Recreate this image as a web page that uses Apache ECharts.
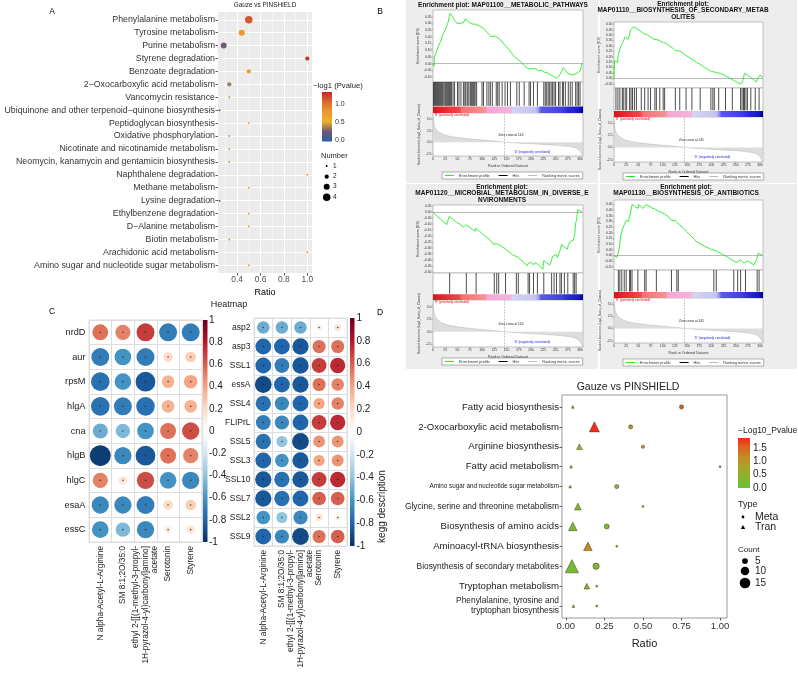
<!DOCTYPE html>
<html>
<head>
<meta charset="utf-8">
<title>Figure</title>
<script src="https://cdn.jsdelivr.net/npm/echarts@6.0.0/dist/echarts.min.js"></script>
<style>
html,body{margin:0;padding:0;background:#ffffff;}
#main{width:798px;height:673px;}
</style>
</head>
<body>
<div id="main"></div>
<script>
// ================= Panel A data =================
const aCategories = ['Phenylalanine metabolism','Tyrosine metabolism','Purine metabolism','Styrene degradation','Benzoate degradation','2\u2212Oxocarboxylic acid metabolism','Vancomycin resistance','Ubiquinone and other terpenoid\u2212quinone biosynthesis','Peptidoglycan biosynthesis','Oxidative phosphorylation','Nicotinate and nicotinamide metabolism','Neomycin, kanamycin and gentamicin biosynthesis','Naphthalene degradation','Methane metabolism','Lysine degradation','Ethylbenzene degradation','D\u2212Alanine metabolism','Biotin metabolism','Arachidonic acid metabolism','Amino sugar and nucleotide sugar metabolism'];
const aRatio  = [0.5, 0.44, 0.2857, 1.0, 0.5, 0.3333, 0.3333, 0.25, 0.5, 0.3333, 0.3333, 0.3333, 1.0, 0.5, 0.25, 0.5, 0.5, 0.3333, 1.0, 0.5];
const aNumber = [4, 3, 3, 2, 2, 2, 1, 1, 1, 1, 1, 1, 1, 1, 1, 1, 1, 1, 1, 1];
const aLogP   = [1.15, 0.8, 0.25, 1.3, 0.75, 0.35, 0.45, 0.05, 0.6, 0.45, 0.45, 0.45, 0.7, 0.55, 0.1, 0.5, 0.5, 0.45, 0.7, 0.5];
const aXTicks = [0.4, 0.6, 0.8, 1.0];
const aXMinorTicks = [0.3, 0.5, 0.7, 0.9];
const aColorTicks = [0.0, 0.5, 1.0];
const aNumberLegend = [1, 2, 3, 4];

// ================= Panel B data =================
const gseaTitles = [
  ['Enrichment plot: MAP01100__METABOLIC_PATHWAYS'],
  ['Enrichment plot:', 'MAP01110__BIOSYNTHESIS_OF_SECONDARY_METAB', 'OLITES'],
  ['Enrichment plot:', 'MAP01120__MICROBIAL_METABOLISM_IN_DIVERSE_E', 'NVIRONMENTS'],
  ['Enrichment plot:', 'MAP01130__BIOSYNTHESIS_OF_ANTIBIOTICS']
];
const es1 = [[0,0],[2,-0.02],[3,0.05],[5,0.04],[6,0.08],[8,0.10],[10,0.09],[12,0.14],[14,0.13],[16,0.17],[18,0.2],[20,0.19],[22,0.23],[25,0.24],[27,0.27],[29,0.29],[31,0.31],[33,0.35],[35,0.375],[38,0.365],[40,0.35],[43,0.33],[46,0.315],[49,0.30],[52,0.295],[56,0.30],[60,0.305],[63,0.31],[66,0.335],[68,0.33],[72,0.31],[76,0.30],[80,0.295],[86,0.295],[90,0.29],[95,0.28],[100,0.27],[105,0.255],[110,0.235],[115,0.215],[118,0.20],[122,0.205],[128,0.205],[132,0.195],[138,0.175],[145,0.145],[150,0.125],[156,0.10],[162,0.07],[168,0.045],[174,0.03],[180,0.01],[186,-0.015],[192,-0.035],[198,-0.04],[204,-0.035],[210,-0.04],[216,-0.055],[222,-0.05],[228,-0.065],[234,-0.07],[240,-0.085],[246,-0.095],[250,-0.10],[253,-0.11],[257,-0.095],[262,-0.06],[266,-0.03],[270,-0.05],[274,-0.07],[280,-0.08],[286,-0.085],[292,-0.075],[296,-0.07],[300,-0.055],[302,-0.03],[304,0.0]];
const es2 = [[0,0],[1,0.165],[5,0.15],[7,0.145],[9,0.22],[12,0.23],[14,0.30],[17,0.32],[19,0.34],[21,0.33],[23,0.385],[26,0.375],[29,0.36],[31,0.39],[34,0.445],[37,0.45],[40,0.475],[44,0.47],[50,0.45],[56,0.43],[62,0.41],[67,0.405],[72,0.39],[77,0.375],[82,0.36],[86,0.365],[90,0.355],[96,0.34],[102,0.33],[108,0.32],[114,0.30],[120,0.28],[125,0.26],[130,0.255],[136,0.25],[142,0.23],[148,0.21],[155,0.19],[162,0.17],[170,0.145],[178,0.125],[186,0.10],[194,0.08],[200,0.06],[206,0.06],[212,0.05],[218,0.045],[224,0.035],[230,0.02],[236,0.005],[242,-0.01],[248,-0.025],[254,-0.04],[260,-0.055],[264,-0.03],[268,0.045],[274,0.03],[280,0.01],[286,-0.01],[290,-0.025],[292,-0.035],[296,0.005],[300,0.03],[305,0.005]];
const es3 = [[0,0],[4,-0.015],[10,-0.04],[16,-0.06],[22,-0.085],[28,-0.105],[32,-0.12],[33,-0.035],[40,-0.06],[48,-0.085],[56,-0.105],[62,-0.125],[66,-0.135],[67,-0.105],[74,-0.125],[80,-0.145],[86,-0.16],[87,-0.135],[95,-0.16],[103,-0.19],[110,-0.21],[118,-0.24],[124,-0.27],[125,-0.255],[130,-0.265],[133,-0.28],[134,-0.265],[140,-0.285],[148,-0.31],[156,-0.335],[163,-0.36],[166,-0.37],[172,-0.375],[178,-0.395],[185,-0.42],[192,-0.45],[194,-0.43],[198,-0.435],[200,-0.42],[204,-0.44],[210,-0.425],[214,-0.44],[220,-0.46],[224,-0.48],[226,-0.405],[232,-0.425],[238,-0.445],[240,-0.455],[242,-0.40],[244,-0.37],[248,-0.38],[251,-0.355],[254,-0.38],[256,-0.375],[260,-0.31],[262,-0.27],[268,-0.29],[274,-0.31],[276,-0.28],[280,-0.245],[284,-0.23],[286,-0.235],[289,-0.19],[291,-0.09],[293,-0.07],[295,0.02],[300,0.01],[304,0.0]];
const es4 = [[0,0],[6,-0.02],[8,-0.025],[9,0.03],[11,0.075],[13,0.07],[14,0.18],[17,0.175],[19,0.25],[22,0.245],[25,0.31],[28,0.305],[30,0.30],[31,0.33],[33,0.355],[36,0.35],[37,0.45],[42,0.435],[46,0.42],[49,0.415],[51,0.45],[55,0.435],[59,0.415],[62,0.41],[66,0.45],[72,0.435],[78,0.42],[84,0.41],[87,0.40],[92,0.39],[98,0.38],[104,0.365],[108,0.355],[112,0.34],[118,0.31],[122,0.30],[126,0.305],[129,0.29],[135,0.27],[142,0.245],[149,0.21],[156,0.18],[163,0.15],[170,0.12],[178,0.10],[186,0.08],[194,0.065],[200,0.05],[205,0.047],[208,0.05],[211,0.038],[218,0.02],[225,0.005],[232,-0.012],[240,-0.035],[246,-0.05],[250,-0.055],[253,-0.062],[255,-0.045],[260,-0.04],[263,-0.055],[267,-0.07],[270,-0.06],[274,-0.05],[280,-0.065],[287,-0.085],[290,-0.075],[293,-0.04],[296,0.018],[300,0.01],[305,0.0]];
const hits1 = [1,3,5,7,9,11,13,15,17,19,21,24,26,28,30,32,34,36,38,41,44,50,53,57,62,65,67,70,73,76,78,80,82,84,86,89,100,103,110,114,117,121,129,132,135,141,147,152,158,171,176,186,196,199,205,213,226,229,232,235,238,241,244,247,250,256,259,264,266,270,276,280,284,291,294,297,300];
const hits2 = [4,8,12,17,19,23,26,32,35,38,42,46,56,63,70,75,84,87,94,101,104,126,135,148,160,177,199,203,206,215,229,243,260,263,266,268,271,274,281,290,298];
const hits3 = [34,68,88,125,130,134,148,170,174,194,197,205,213,226,242,247,252,259,262,268,275,286,289,292];
const hits4 = [9,12,16,21,25,32,34,37,49,63,66,87,118,129,132,205,210,246,254,260,270,294,298];
const rankMetric = [[0,5.6],[1,4.7],[2,4.0],[3,3.5],[5,3.0],[7,2.6],[10,2.3],[14,2.0],[19,1.75],[25,1.5],[35,1.25],[50,1.0],[70,0.75],[90,0.55],[110,0.38],[130,0.2],[145,0.0],[165,-0.15],[190,-0.3],[215,-0.45],[240,-0.6],[260,-0.75],[278,-0.95],[290,-1.2],[297,-1.6],[301,-2.1],[304,-2.7],[306,-3.0]];
const rankTicks = [0,25,50,75,100,125,150,175,200,225,250,275,300];
const esTicks1 = [-0.10,-0.05,0.00,0.05,0.10,0.15,0.20,0.25,0.30,0.35];
const esTicks2 = [-0.05,0.00,0.05,0.10,0.15,0.20,0.25,0.30,0.35,0.40,0.45,0.50];
const esTicks3 = [-0.50,-0.45,-0.40,-0.35,-0.30,-0.25,-0.20,-0.15,-0.10,-0.05,0.00,0.05];
const esTicks4 = [-0.10,-0.05,0.00,0.05,0.10,0.15,0.20,0.25,0.30,0.35,0.40,0.45];
const metricTicks = [-2.5, 0.0, 2.5, 5.0];
const zeroCross = 145;

// ================= Panel C data =================
const heatCols = ['N alpha-Acetyl-L-Arginine','SM 8:1;2O/35:0','ethyl 2-[[(1-methyl-3-propyl-\n1H-pyrazol-4-yl)carbonyl]amino]\nacetate','Serotonin','Styrene'];
const heatRowsLeft = ['nrdD','aur','rpsM','hlgA','cna','hlgB','hlgC','esaA','essC'];
const heatLeft = [
  [0.55, 0.5, 0.7, -0.7, -0.7],
  [-0.7, -0.6, -0.7, 0.2, 0.25],
  [-0.75, -0.6, -0.85, 0.35, 0.4],
  [-0.75, -0.7, -0.75, 0.35, 0.35],
  [-0.5, -0.45, -0.6, 0.55, 0.65],
  [-0.95, -0.65, -0.85, 0.55, 0.5],
  [0.5, 0.15, 0.65, -0.6, -0.65],
  [-0.65, -0.65, -0.7, 0.2, 0.25],
  [-0.6, -0.45, -0.65, 0.1, 0.15]
];
const heatRowsRight = ['asp2','asp3','SSL1','essA','SSL4','FLIPrL','SSL5','SSL3','SSL10','SSL7','SSL2','SSL9'];
const heatRight = [
  [-0.5, -0.5, -0.5, 0.1, 0.15],
  [-0.8, -0.8, -0.85, 0.55, 0.55],
  [-0.8, -0.7, -0.85, 0.7, 0.75],
  [-0.9, -0.8, -0.85, 0.55, 0.5],
  [-0.75, -0.65, -0.8, 0.4, 0.5],
  [-0.7, -0.65, -0.8, 0.7, 0.75],
  [-0.75, -0.4, -0.9, 0.45, 0.45],
  [-0.8, -0.6, -0.85, 0.4, 0.45],
  [-0.85, -0.75, -0.85, 0.7, 0.75],
  [-0.85, -0.75, -0.8, 0.6, 0.6],
  [-0.6, -0.4, -0.65, 0.15, 0.1],
  [-0.8, -0.65, -0.9, 0.55, 0.6]
];

// ================= Panel D data =================
const dCategories = ['Fatty acid biosynthesis','2-Oxocarboxylic acid metabolism','Arginine biosynthesis','Fatty acid metabolism','Amino sugar and nucleotide sugar metabolism','Glycine, serine and threonine metabolism','Biosynthesis of amino acids','Aminoacyl-tRNA biosynthesis','Biosynthesis of secondary metabolites','Tryptophan metabolism','Phenylalanine, tyrosine and\ntryptophan biosynthesis'];
const dMetaRatio = [0.75, 0.42, 0.50, 1.00, 0.33, 0.50, 0.265, 0.33, 0.196, 0.20, 0.20];
const dMetaCount = [3, 3, 2, 1, 3, 1, 4, 1, 6, 1, 1];
const dMetaLogP  = [1.6, 1.05, 1.0, 0.9, 0.45, 0.8, 0.4, 0.75, 0.3, 0.8, 0.8];
const dTranRatio = [0.045, 0.185, 0.088, 0.034, 0.028, 0.078, 0.045, 0.143, 0.039, 0.136, 0.049];
const dTranCount = [1, 8, 3, 1, 1, 4, 6, 6, 13, 3, 1];
const dTranLogP  = [0.9, 1.85, 0.5, 0.8, 0.8, 0.45, 0.25, 1.15, 0.15, 0.5, 0.8];
const dXTicks = [0, 0.25, 0.5, 0.75, 1.0];
const dColorTicks = [0, 0.5, 1.0, 1.5];
const dCountLegend = [5, 10, 15];

// ================= Styles / layout =================
const FONT = '"Liberation Sans", Arial, Helvetica, sans-serif';
const aColors = ['#2C5FA8', '#6B5878', '#EFAE2C', '#EC9A2C', '#DC6A2E', '#C4262E'];
const rdBu = ['#053061','#2166AC','#4393C3','#92C5DE','#D1E5F0','#FFFFFF','#FDDBC7','#F4A582','#D6604D','#B2182B','#67001F'];
const dColors = ['#68C03A', '#86B530', '#A6A62A', '#C28E22', '#DC6420', '#F22A1A'];
const gseaBarStops = [[0,'#d8141e'],[0.08,'#e82a30'],[0.18,'#ee4a4a'],[0.19,'#f27070'],[0.35,'#f49494'],[0.36,'#f6a6d6'],[0.52,'#f4b4dc'],[0.53,'#d4d4f4'],[0.68,'#c4c4f0'],[0.7,'#a8a8ec'],[0.72,'#5a5ae4'],[0.86,'#4040dc'],[0.9,'#2c2cd4'],[0.97,'#1818c8'],[1,'#000090']];
const rankMax = 306;
const gseaLayout = [
  {left:433, width:150, esTop:10,  esH:72, hitsH:31, metH:43, esMin:-0.1375, esMax:0.40, titleX:503, titleY:5,  legendLeft:442, legendTop:172, bg:[406,0,192,183]},
  {left:614, width:149, esTop:22,  esH:66, hitsH:29, metH:45, esMin:-0.09,   esMax:0.52, titleX:683, titleY:4,  legendLeft:623, legendTop:173, bg:[600,0,197,183]},
  {left:433, width:150, esTop:205, esH:68, hitsH:27, metH:47, esMin:-0.51,   esMax:0.06, titleX:502, titleY:187, legendLeft:442, legendTop:358, bg:[406,184,192,185]},
  {left:614, width:149, esTop:200, esH:70, hitsH:28, metH:45, esMin:-0.13,   esMax:0.49, titleX:686, titleY:187, legendLeft:623, legendTop:359, bg:[600,184,197,185]}
];
const esData = [es1, es2, es3, es4];
const hitsData = [hits1, hits2, hits3, hits4];
const esTicks = [esTicks1, esTicks2, esTicks3, esTicks4];

const grid = [], xAxis = [], yAxis = [], series = [], visualMap = [], legend = [], graphic = [];
const NOLINE = {show: false, onZero: false};
function addGrid(g, xa, ya) {
  grid.push(g);
  const i = grid.length - 1;
  xAxis.push(Object.assign({gridIndex: i, axisLine: NOLINE}, xa));
  yAxis.push(Object.assign({gridIndex: i, axisLine: NOLINE}, ya));
  return i;
}
function text(x, y, t, o) {
  o = o || {};
  const st = {text: t, fontSize: o.size || 8, fontFamily: FONT, fontWeight: o.weight || 'normal',
    fill: o.color || '#000', align: o.align || 'left', verticalAlign: o.valign || 'middle'};
  graphic.push({type: 'text', x: x, y: y, rotation: o.rotation || 0, silent: true, z: 100, style: st});
}
function gradientBar(gi, colors) {
  series.push({type: 'custom', xAxisIndex: gi, yAxisIndex: gi, silent: true, data: [[0.5, 0.5]],
    renderItem: function (params) {
      const cs = params.coordSys;
      return {type: 'rect', shape: {x: cs.x, y: cs.y, width: cs.width, height: cs.height},
        style: {fill: new echarts.graphic.LinearGradient(0, 1, 0, 0,
          colors.map(function (c, i) { return {offset: i / (colors.length - 1), color: c}; }))}};
    }});
}
function barAxisX() { return {type: 'value', min: 0, max: 1, show: false}; }
function barAxisY(min, max, extra) {
  return Object.assign({type: 'value', min: min, max: max, position: 'right', axisLine: NOLINE,
    axisTick: {show: false}, splitLine: {show: false}}, extra);
}
function sizeA(n) { return 2 + 5.5 * (Math.sqrt(n) - 1); }
function sizeD(n) { return 2 + 3 * (Math.sqrt(n) - 1); }

// ================= Panel A =================
const aIdx = aCategories.map(function (c, i) { return i; });
const gA = addGrid({left: 218, top: 12, width: 94, height: 261, show: true, backgroundColor: '#EBEBEB', borderWidth: 0},
  {type: 'value', min: 0.237, max: 1.04,
   axisTick: {show: true, customValues: aXTicks, length: 2.5, lineStyle: {color: '#333', width: 0.8}},
   axisLabel: {customValues: aXTicks, formatter: function (v) { return v.toFixed(1); }, fontSize: 8.4, color: '#4D4D4D', margin: 3},
   splitLine: {show: true, lineStyle: {color: '#FFFFFF', width: 1}},
   name: 'Ratio', nameLocation: 'middle', nameGap: 15, nameTextStyle: {fontSize: 9, color: '#000'}},
  {type: 'value', min: -0.6, max: 19.6, inverse: true,
   axisTick: {show: true, customValues: aIdx, length: 2.5, lineStyle: {color: '#333', width: 0.8}},
   axisLabel: {customValues: aIdx, formatter: function (v) { return aCategories[Math.round(v)]; }, fontSize: 8.8, color: '#333', margin: 3},
   splitLine: {show: true, lineStyle: {color: '#FFFFFF', width: 1}}});
// minor vertical grid lines of panel A (white, thin)
series.push({type: 'line', xAxisIndex: gA, yAxisIndex: gA, data: [], silent: true, z: 1,
  markLine: {silent: true, symbol: 'none', label: {show: false}, animation: false,
    data: aXMinorTicks.map(function (v) { return {xAxis: v}; }), lineStyle: {color: '#FFFFFF', width: 0.5, type: 'solid'}}});
const sA = series.length;
series.push({type: 'scatter', xAxisIndex: gA, yAxisIndex: gA, z: 5,
  data: aCategories.map(function (c, i) { return [aRatio[i], i, aNumber[i], aLogP[i]]; }),
  symbolSize: function (d) { return sizeA(d[2]); }, itemStyle: {opacity: 1}});
visualMap.push({type: 'continuous', show: false, seriesIndex: [sA], dimension: 3, min: -0.04, max: 1.35, inRange: {color: aColors}});
const gAbar = addGrid({left: 322, top: 92, width: 10, height: 49.5}, barAxisX(),
  barAxisY(-0.04, 1.35, {axisLabel: {customValues: aColorTicks, formatter: function (v) { return v.toFixed(1); }, fontSize: 7, color: '#333', margin: 3}}));
gradientBar(gAbar, aColors);
text(52, 12, 'A', {size: 8.5, align: 'center'});
text(265, 5, 'Gauze vs PINSHIELD', {size: 6.4, align: 'center', color: '#222'});
text(313, 86, '\u2212log1 (Pvalue)', {size: 7.7, color: '#222'});
text(321, 156, 'Number', {size: 7.5, color: '#222'});
const aLegY = [166, 176.7, 186.7, 197.3];
aNumberLegend.forEach(function (n, i) {
  graphic.push({type: 'circle', shape: {cx: 326.7, cy: aLegY[i], r: sizeA(n) / 2}, style: {fill: '#000'}, silent: true, z: 100});
  text(333, aLegY[i], String(n), {size: 6.5, color: '#222'});
});

// ================= Panel B (GSEA) =================
gseaLayout.forEach(function (L, k) {
  const hitsTop = L.esTop + L.esH, metTop = hitsTop + L.hitsH;
  graphic.push({type: 'rect', shape: {x: L.bg[0], y: L.bg[1], width: L.bg[2], height: L.bg[3]}, style: {fill: '#EDEDED'}, silent: true, z: -10});
  const frame = {show: true, backgroundColor: '#FFFFFF', borderColor: '#9a9a9a', borderWidth: 0.6};
  const smallLab = {fontSize: 3.4, color: '#333', margin: 1.5};
  const smallTick = {show: true, length: 1.5, lineStyle: {color: '#666', width: 0.4}};
  const gES = addGrid(Object.assign({left: L.left, top: L.esTop, width: L.width, height: L.esH}, frame),
    {type: 'value', min: 0, max: rankMax, show: false},
    {type: 'value', min: L.esMin, max: L.esMax, splitLine: {show: false},
     axisLabel: Object.assign({customValues: esTicks[k], formatter: function (v) { return v.toFixed(2); }}, smallLab),
     axisTick: Object.assign({customValues: esTicks[k]}, smallTick),
     name: 'Enrichment score (ES)', nameLocation: 'middle', nameGap: 12, nameTextStyle: {fontSize: 3.6, color: '#333'}});
  series.push({type: 'line', name: 'Enrichment profile', xAxisIndex: gES, yAxisIndex: gES, data: esData[k],
    showSymbol: false, symbol: 'none', lineStyle: {color: '#22EE22', width: 0.9}, itemStyle: {color: '#22EE22'}, z: 4,
    markLine: {silent: true, symbol: 'none', label: {show: false}, data: [{yAxis: 0}], lineStyle: {color: '#888', width: 0.6, type: 'solid'}}});
  const gH = addGrid(Object.assign({left: L.left, top: hitsTop, width: L.width, height: L.hitsH}, frame),
    {type: 'value', min: 0, max: rankMax, show: false},
    {type: 'value', min: 0, max: 1, show: false});
  series.push({type: 'custom', name: 'Hits', xAxisIndex: gH, yAxisIndex: gH, silent: true, itemStyle: {color: '#000'},
    data: hitsData[k].map(function (r) { return [r, 0.5]; }),
    renderItem: function (params, api) {
      const b = api.coord([api.value(0), 0.23]);
      const t = api.coord([api.value(0), 1]);
      return {type: 'line', shape: {x1: b[0], y1: b[1], x2: t[0], y2: t[1]}, style: {stroke: '#000', lineWidth: 0.7}};
    }});
  series.push({type: 'custom', xAxisIndex: gH, yAxisIndex: gH, silent: true, data: [[0.5, 0.5]],
    renderItem: function (params, api) {
      const p0 = api.coord([0, 0.21]);
      const p1 = api.coord([rankMax, 0]);
      return {type: 'rect', shape: {x: p0[0], y: p0[1], width: p1[0] - p0[0], height: p1[1] - p0[1]},
        style: {fill: new echarts.graphic.LinearGradient(0, 0, 1, 0, gseaBarStops.map(function (s) { return {offset: s[0], color: s[1]}; }))}};
    }});
  const gM = addGrid(Object.assign({left: L.left, top: metTop, width: L.width, height: L.metH}, frame),
    {type: 'value', min: 0, max: rankMax, splitLine: {show: false},
     axisLabel: Object.assign({customValues: rankTicks}, smallLab), axisTick: Object.assign({customValues: rankTicks}, smallTick),
     name: 'Rank in Ordered Dataset', nameLocation: 'middle', nameGap: 7.5, nameTextStyle: {fontSize: 3.6, color: '#333'}},
    {type: 'value', min: -3.0, max: 6.3, splitLine: {show: false},
     axisLabel: Object.assign({customValues: metricTicks, formatter: function (v) { return v.toFixed(1); }}, smallLab),
     axisTick: Object.assign({customValues: metricTicks}, smallTick),
     name: 'Ranked list metric (log2_Ratio_of_Classes)', nameLocation: 'middle', nameGap: 12, nameTextStyle: {fontSize: 3.2, color: '#333'}});
  series.push({type: 'line', name: 'Ranking metric scores', xAxisIndex: gM, yAxisIndex: gM, data: rankMetric,
    showSymbol: false, symbol: 'none', lineStyle: {color: '#aaaaaa', width: 0.4}, itemStyle: {color: '#bbbbbb'},
    areaStyle: {color: '#cfcfcf', origin: 0},
    markLine: {silent: true, symbol: 'none', label: {show: false}, data: [{xAxis: zeroCross}], lineStyle: {color: '#999', width: 0.5, type: 'dashed'}}});
  text(L.left + 1.5, metTop + 2.5, "'R' (positively correlated)", {size: 3.2, color: '#E00000'});
  text(L.left + L.width * 0.52, metTop + L.metH * 0.52, 'Zero cross at ' + zeroCross, {size: 3.2, color: '#222', align: 'center'});
  text(L.left + L.width * 0.66, metTop + L.metH * 0.9, "'D' (negatively correlated)", {size: 3.2, color: '#2020E0', align: 'center'});
  gseaTitles[k].forEach(function (line, j) {
    text(L.titleX, L.titleY + j * 6.6, line, {size: 6.5, weight: 'bold', align: 'center', color: '#111'});
  });
  legend.push({left: L.legendLeft, top: L.legendTop, data: ['Enrichment profile', 'Hits', 'Ranking metric scores'],
    icon: 'rect', itemWidth: 9, itemHeight: 1, itemGap: 9, padding: [1.5, 3], selectedMode: false,
    textStyle: {fontSize: 3.8, color: '#333'}, borderColor: '#666', borderWidth: 0.5, backgroundColor: '#fff'});
});
text(380, 12, 'B', {size: 8.5, align: 'center'});

// ================= Panel C =================
function heatmap(gi, values, cell) {
  const data = [];
  values.forEach(function (row, r) { row.forEach(function (v, c) { data.push([c, r, v]); }); });
  const si = series.length;
  series.push({type: 'scatter', xAxisIndex: gi, yAxisIndex: gi, data: data, silent: true, z: 3,
    symbolSize: function (d) { return cell * 0.95 * Math.sqrt(Math.abs(d[2])); }, itemStyle: {opacity: 1}});
  series.push({type: 'scatter', xAxisIndex: gi, yAxisIndex: gi, data: data, silent: true, z: 4,
    symbolSize: 1.6, itemStyle: {color: '#222'}});
  return si;
}
function heatAxes(rows, rowFont) {
  return [
    {type: 'category', data: heatCols, axisTick: {show: false},
     axisLabel: {rotate: 90, interval: 0, fontSize: 8.3, color: '#222', margin: 4, lineHeight: 9.5},
     splitLine: {show: true, lineStyle: {color: '#DDDDDD', width: 1}}},
    {type: 'category', data: rows, inverse: true, axisTick: {show: false},
     axisLabel: {interval: 0, fontSize: rowFont, color: '#222', margin: 3.5},
     splitLine: {show: true, lineStyle: {color: '#DDDDDD', width: 1}}}
  ];
}
const hL = heatAxes(heatRowsLeft, 9.2);
const gC1 = addGrid({left: 89, top: 320, width: 113, height: 222, show: true, borderColor: '#DDDDDD', borderWidth: 1}, hL[0], hL[1]);
const hR = heatAxes(heatRowsRight, 8.5);
const gC2 = addGrid({left: 254, top: 318, width: 93, height: 228, show: true, borderColor: '#DDDDDD', borderWidth: 1}, hR[0], hR[1]);
const sC1 = heatmap(gC1, heatLeft, 22.6);
const sC2 = heatmap(gC2, heatRight, 18.6);
visualMap.push({type: 'continuous', show: false, seriesIndex: [sC1, sC2], dimension: 2, min: -1, max: 1, inRange: {color: rdBu}});
function corrLabel(v) { return String(Math.round(v * 10) / 10); }
const gCb1 = addGrid({left: 203, top: 320, width: 4.5, height: 222}, barAxisX(),
  barAxisY(-1, 1, {interval: 0.2, axisLabel: {formatter: corrLabel, fontSize: 10, color: '#222', margin: 1.5}}));
gradientBar(gCb1, rdBu);
const gCb2 = addGrid({left: 350, top: 318, width: 4.5, height: 228}, barAxisX(),
  barAxisY(-1, 1, {interval: 0.2, axisLabel: {formatter: corrLabel, fontSize: 10, color: '#222', margin: 2}}));
gradientBar(gCb2, rdBu);
text(52, 312, 'C', {size: 8.5, align: 'center'});
text(229, 305, 'Heatmap', {size: 9, align: 'center', color: '#222'});

// ================= Panel D =================
const dRich = {
  s: {fontSize: 6.3, color: '#1a1a1a'},
  m: {fontSize: 8.4, color: '#1a1a1a', lineHeight: 10},
  n: {fontSize: 9.6, color: '#1a1a1a'}
};
const dLabelKind = {
  'Amino sugar and nucleotide sugar metabolism': 's',
  'Glycine, serine and threonine metabolism': 'm',
  'Biosynthesis of secondary metabolites': 'm',
  'Phenylalanine, tyrosine and\ntryptophan biosynthesis': 'm'
};
const dIdx = dCategories.map(function (c, i) { return i; });
const gD = addGrid({left: 562, top: 395, width: 165, height: 223, show: true, backgroundColor: '#FFFFFF', borderColor: '#999999', borderWidth: 1},
  {type: 'value', min: -0.025, max: 1.045, splitLine: {show: false},
   axisTick: {show: true, customValues: dXTicks, length: 2.5, lineStyle: {color: '#333', width: 0.8}},
   axisLabel: {customValues: dXTicks, formatter: function (v) { return v.toFixed(2); }, fontSize: 9.5, color: '#333', margin: 3},
   name: 'Ratio', nameLocation: 'middle', nameGap: 20, nameTextStyle: {fontSize: 11, color: '#222'}},
  {type: 'value', min: -0.6, max: 10.6, inverse: true, splitLine: {show: false},
   axisTick: {show: true, customValues: dIdx, length: 2.5, lineStyle: {color: '#333', width: 0.8}},
   axisLabel: {customValues: dIdx, margin: 3, rich: dRich, formatter: function (v) {
     const name = dCategories[Math.round(v)]; const k = dLabelKind[name] || 'n';
     return name.split('\n').map(function (p) { return '{' + k + '|' + p + '}'; }).join('\n'); }},
   name: 'kegg description', nameLocation: 'middle', nameGap: 175, nameRotate: 90, nameTextStyle: {fontSize: 10, color: '#222'}});
const sDm = series.length;
series.push({type: 'scatter', name: 'Meta', xAxisIndex: gD, yAxisIndex: gD, symbol: 'circle', z: 5,
  data: dCategories.map(function (c, i) { return [dMetaRatio[i], i, dMetaCount[i], dMetaLogP[i]]; }),
  symbolSize: function (d) { return sizeD(d[2]); }, itemStyle: {borderColor: 'rgba(50,50,20,0.75)', borderWidth: 0.6, opacity: 1}});
series.push({type: 'scatter', name: 'Tran', xAxisIndex: gD, yAxisIndex: gD, symbol: 'triangle', z: 5,
  data: dCategories.map(function (c, i) { return [dTranRatio[i], i, dTranCount[i], dTranLogP[i]]; }),
  symbolSize: function (d) { return sizeD(d[2]) * 1.35; }, itemStyle: {borderColor: 'rgba(50,50,20,0.75)', borderWidth: 0.6, opacity: 1}});
visualMap.push({type: 'continuous', show: false, seriesIndex: [sDm, sDm + 1], dimension: 3, min: 0, max: 1.875, inRange: {color: dColors}});
const gDbar = addGrid({left: 738, top: 438, width: 12, height: 50}, barAxisX(),
  barAxisY(0, 1.875, {axisLabel: {customValues: dColorTicks, formatter: function (v) { return v.toFixed(1); }, fontSize: 10, color: '#222', margin: 3}}));
gradientBar(gDbar, dColors);
text(380, 313, 'D', {size: 8.5, align: 'center'});
text(628, 387, 'Gauze vs PINSHIELD', {size: 10.5, align: 'center', color: '#222'});
text(738, 431, '\u2212Log10_Pvalue', {size: 8.5, color: '#222'});
text(738, 505, 'Type', {size: 9, color: '#222'});
graphic.push({type: 'circle', shape: {cx: 743, cy: 517, r: 1.4}, style: {fill: '#000'}, silent: true, z: 100});
text(755, 517, 'Meta', {size: 10.5, color: '#222'});
graphic.push({type: 'polygon', shape: {points: [[743, 525], [740.8, 529], [745.2, 529]]}, style: {fill: '#000'}, silent: true, z: 100});
text(755, 527, 'Tran', {size: 10.5, color: '#222'});
text(738, 550, 'Count', {size: 8, color: '#222'});
const dLegY = [561, 571, 583];
dCountLegend.forEach(function (n, i) {
  graphic.push({type: 'circle', shape: {cx: 745, cy: dLegY[i], r: sizeD(n) / 2}, style: {fill: '#000'}, silent: true, z: 100});
  text(755, dLegY[i], String(n), {size: 10, color: '#222'});
});

const chart = echarts.init(document.getElementById('main'));
chart.setOption({
  animation: false,
  backgroundColor: '#FFFFFF',
  textStyle: {fontFamily: FONT},
  grid: grid, xAxis: xAxis, yAxis: yAxis, series: series,
  visualMap: visualMap, legend: legend, graphic: {elements: graphic}
});
</script>
</body>
</html>
